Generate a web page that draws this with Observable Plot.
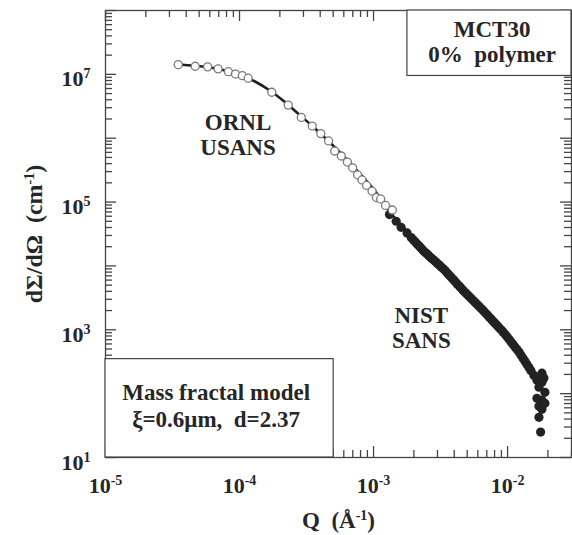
<!DOCTYPE html>
<html><head><meta charset="utf-8">
<script src="https://cdn.jsdelivr.net/npm/d3@7"></script>
<script src="https://cdn.jsdelivr.net/npm/@observablehq/plot@0.6"></script>
<style>
body{margin:0;background:#fff;}
#chart svg{display:block;}
</style></head><body><div id="chart"></div>
<script>
// ORNL USANS (open circles)
const usansQ = [3.49e-5, 4.67e-5, 5.78e-5, 6.92e-5, 8.26e-5, 9.33e-5, 1.05e-4, 1.16e-4, 1.74e-4, 2.31e-4, 2.89e-4, 3.49e-4, 4.04e-4, 4.62e-4, 5.13e-4, 5.75e-4, 6.38e-4, 6.98e-4, 7.60e-4, 8.20e-4, 8.87e-4, 9.75e-4, 1.05e-3, 1.13e-3, 1.23e-3, 1.38e-3];
const usansI = [1.42e7, 1.34e7, 1.31e7, 1.22e7, 1.10e7, 1.01e7, 9.55e6, 8.71e6, 5.25e6, 3.30e6, 2.12e6, 1.55e6, 1.18e6, 9.07e5, 6.31e5, 5.27e5, 4.23e5, 3.44e5, 2.67e5, 2.22e5, 1.82e5, 1.48e5, 1.18e5, 1.12e5, 8.85e4, 7.51e4];
// NIST SANS (filled circles)
const sansQ = [1.315e-3, 1.475e-3, 1.606e-3, 1.780e-3, 1.907e-3, 1.984e-3, 2.053e-3, 2.124e-3, 2.198e-3, 2.274e-3, 2.353e-3, 2.435e-3, 2.521e-3, 2.609e-3, 2.699e-3, 2.793e-3, 2.891e-3, 2.991e-3, 3.095e-3, 3.202e-3, 3.315e-3, 3.430e-3, 3.550e-3, 3.674e-3, 3.801e-3, 3.934e-3, 4.071e-3, 4.212e-3, 4.359e-3, 4.511e-3, 4.668e-3, 4.831e-3, 4.998e-3, 5.173e-3, 5.353e-3, 5.540e-3, 5.732e-3, 5.932e-3, 6.139e-3, 6.353e-3, 6.572e-3, 6.802e-3, 7.040e-3, 7.285e-3, 7.539e-3, 7.801e-3, 8.074e-3, 8.354e-3, 8.646e-3, 8.946e-3, 9.259e-3, 9.581e-3, 9.915e-3, 1.026e-2, 1.062e-2, 1.099e-2, 1.137e-2, 1.176e-2, 1.218e-2, 1.260e-2, 1.304e-2, 1.349e-2, 1.396e-2, 1.445e-2, 1.495e-2, 1.574e-2, 1.657e-2,
  1.805e-2, 1.868e-2, 1.805e-2, 1.715e-2, 1.900e-2, 1.657e-2, 1.805e-2, 1.900e-2, 1.715e-2, 1.805e-2, 1.715e-2, 1.765e-2];
const sansI = [6.38e4, 5.01e4, 4.03e4, 3.29e4, 2.78e4, 2.545e4, 2.36e4, 2.186e4, 2.03e4, 1.877e4, 1.73e4, 1.619e4, 1.52e4, 1.421e4, 1.33e4, 1.247e4, 1.17e4, 1.095e4, 1.03e4, 9.61e3, 9.00e3, 8.38e3, 7.73e3, 7.17e3, 6.62e3, 6.11e3, 5.67e3, 5.23e3, 4.83e3, 4.48e3, 4.13e3, 3.83e3, 3.56e3, 3.31e3, 3.08e3, 2.87e3, 2.67e3, 2.48e3, 2.31e3, 2.15e3, 2.00e3, 1.85e3, 1.72e3, 1.59e3, 1.47e3, 1.36e3, 1.26e3, 1.168e3, 1.08e3, 1.00e3, 927, 850, 776, 709, 645, 589, 538, 490, 448, 400, 358, 321, 287, 256, 229, 193, 162,
  209, 175, 151, 126, 105, 84.7, 78.7, 70.6, 63.4, 56.8, 42.6, 25.0];
// Mass fractal model curve
const modelQ = [3.49e-5, 4.668e-5, 6.035e-5, 7.80e-5, 1.009e-4, 1.304e-4, 1.686e-4, 2.180e-4, 2.817e-4, 3.641e-4, 4.708e-4, 6.087e-4, 7.865e-4, 1.017e-3, 1.315e-3, 1.850e-3, 3.095e-3, 5.173e-3, 8.646e-3, 1.218e-2, 1.574e-2];
const modelI = [1.43e7, 1.356e7, 1.284e7, 1.152e7, 9.79e6, 7.73e6, 5.58e6, 3.68e6, 2.30e6, 1.436e6, 8.65e5, 5.03e5, 2.82e5, 1.522e5, 7.12e4, 3.21e4, 1.03e4, 3.31e3, 1.08e3, 448, 193];

// axes
const xDomain = [1e-5, 3e-2];
const yDomain = [10, 1e8];
const xDecades = [1e-5, 1e-4, 1e-3, 1e-2];
const xTickLabels = ["10^{-5}", "10^{-4}", "10^{-3}", "10^{-2}"];
const yDecades = [1e1, 1e2, 1e3, 1e4, 1e5, 1e6, 1e7, 1e8];
const yLabelDecades = [1e1, 1e3, 1e5, 1e7];
const yTickLabels = ["10^{1}", "10^{3}", "10^{5}", "10^{7}"];
const minorSteps = [2, 3, 4, 5, 6, 7, 8, 9];
const xLabel = "Q  (Å^{-1})";
const yLabel = "dΣ/dΩ  (cm^{-1})";

// annotations
const annText = ["ORNL\nUSANS", "NIST\nSANS", "MCT30\n0%  polymer"];
const annQ = [9.75e-5, 2.274e-3, 7.67e-3];
const annI = [1.156e6, 1087, 3.29e7];
const modelText = ["Mass fractal model\nξ=0.6μm,\u00a0\u00a0d=2.37"];
const modelTextQ = [6.69e-5];
const modelTextI = [65.7];
const boxX1 = [1.79e-3, 1e-5];
const boxX2 = [3e-2, 5.04e-4];
const boxY1 = [9.44e6, 10];
const boxY2 = [1e8, 347];

const W = 572, H = 535, mL = 105, mR = 1, mT = 10, mB = 78;
const iW = W - mL - mR, iH = H - mT - mB;
const ink = "#262626", axisInk = "#444";

const usans = usansQ.map((q, i) => ({q, v: usansI[i]}));
const sans = sansQ.map((q, i) => ({q, v: sansI[i]}));
const model = modelQ.map((q, i) => ({q, v: modelI[i]}));
const ann = annText.map((t, i) => ({t, q: annQ[i], v: annI[i]}));
const ann2 = modelText.map((t, i) => ({t, q: modelTextQ[i], v: modelTextI[i]}));
const boxes = boxX1.map((x1, i) => ({x1, x2: boxX2[i], y1: boxY1[i], y2: boxY2[i]}));

const inside = (v, dom) => v >= dom[0] * 0.9999 && v <= dom[1] * 1.0001;
const xMajor = xDecades.filter(v => inside(v, xDomain));
const xMinor = xDecades.flatMap(d => minorSteps.map(s => s * d)).filter(v => inside(v, xDomain));
const yMajor = yDecades.filter(v => inside(v, yDomain));
const yMinor = yDecades.flatMap(d => minorSteps.map(s => s * d)).filter(v => inside(v, yDomain));
const xFmt = new Map(xDecades.map((d, i) => [d, xTickLabels[i]]));
const yFmt = new Map(yLabelDecades.map((d, i) => [d, yTickLabels[i]]));

const chart = Plot.plot({
  width: W, height: H,
  marginLeft: mL, marginRight: mR, marginTop: mT, marginBottom: mB,
  style: {fontFamily: '"Liberation Serif", "Times New Roman", serif', fontWeight: "bold", fontSize: "22px", color: ink, background: "white"},
  x: {type: "log", domain: xDomain, axis: null},
  y: {type: "log", domain: yDomain, axis: null},
  marks: [
    // inward ticks on all four sides
    Plot.tickX(xMajor, {x: d => d, insetBottom: iH - 11, stroke: axisInk, strokeWidth: 1.3}),
    Plot.tickX(xMinor, {x: d => d, insetBottom: iH - 7, stroke: axisInk, strokeWidth: 1.3}),
    Plot.tickX(xMajor, {x: d => d, insetTop: iH - 11, stroke: axisInk, strokeWidth: 1.3}),
    Plot.tickX(xMinor, {x: d => d, insetTop: iH - 7, stroke: axisInk, strokeWidth: 1.3}),
    Plot.tickY(yMajor, {y: d => d, insetRight: iW - 11, stroke: axisInk, strokeWidth: 1.3}),
    Plot.tickY(yMinor, {y: d => d, insetRight: iW - 7, stroke: axisInk, strokeWidth: 1.3}),
    Plot.tickY(yMajor, {y: d => d, insetLeft: iW - 11, stroke: axisInk, strokeWidth: 1.3}),
    Plot.tickY(yMinor, {y: d => d, insetLeft: iW - 7, stroke: axisInk, strokeWidth: 1.3}),
    Plot.frame({stroke: axisInk, strokeWidth: 1.3}),
    Plot.axisX(xDecades, {tickFormat: d => xFmt.get(d), tickSize: 0, tickPadding: 20, fill: ink, fontSize: 22, label: null}),
    Plot.axisY(yLabelDecades, {tickFormat: d => yFmt.get(d), tickSize: 0, tickPadding: 15, dy: 5, fill: ink, fontSize: 22, label: null}),
    // data
    Plot.line(model, {x: "q", y: "v", curve: "catmull-rom", stroke: "#1e1e1e", strokeWidth: 2.6}),
    Plot.dot(sans, {x: "q", y: "v", r: 4.6, fill: "#222", stroke: "none"}),
    Plot.dot(usans, {x: "q", y: "v", r: 4, fill: "white", stroke: "#7a7a7a", strokeWidth: 1.3}),
    // boxes and annotations
    Plot.rect(boxes, {x1: "x1", x2: "x2", y1: "y1", y2: "y2", fill: "white", stroke: axisInk, strokeWidth: 1.2}),
    Plot.text(ann, {x: "q", y: "v", text: "t", fontSize: 23, lineHeight: 1.08, fill: ink}),
    Plot.text(ann2, {x: "q", y: "v", text: "t", fontSize: 23, lineHeight: 1.17, fill: ink}),
    Plot.text([xLabel], {frameAnchor: "bottom", textAnchor: "middle", lineAnchor: "middle", dy: 63, text: d => d, fontSize: 23, fill: ink}),
    Plot.text([yLabel], {frameAnchor: "left", textAnchor: "middle", lineAnchor: "middle", dx: -71, rotate: -90, text: d => d, fontSize: 24, fill: ink})
  ]
});

// superscripts: turn "^{..}" into raised tspans
const NS = "http://www.w3.org/2000/svg";
chart.querySelectorAll("text").forEach(t => {
  if (t.children.length || !t.textContent.includes("^{")) return;
  const parts = t.textContent.split(/(\^\{[^}]*\})/);
  t.textContent = "";
  let raised = false;
  for (const p of parts) {
    if (!p) continue;
    const ts = document.createElementNS(NS, "tspan");
    if (p.startsWith("^{")) {
      ts.textContent = p.slice(2, -1);
      ts.setAttribute("font-size", "14");
      ts.setAttribute("dy", "-8");
      raised = true;
    } else {
      ts.textContent = p;
      if (raised) { ts.setAttribute("dy", "8"); raised = false; }
    }
    t.appendChild(ts);
  }
});
document.getElementById("chart").appendChild(chart);
</script></body></html>
